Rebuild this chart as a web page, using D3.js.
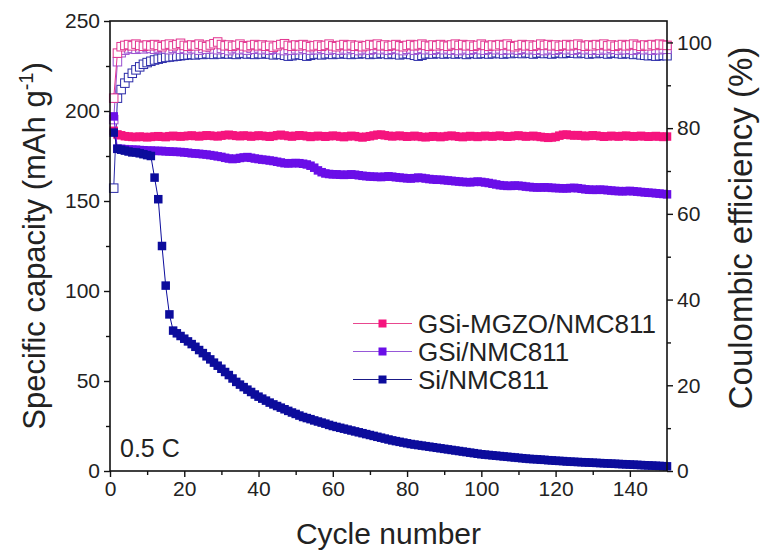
<!DOCTYPE html>
<html>
<head>
<meta charset="utf-8">
<script src="https://cdn.jsdelivr.net/npm/d3@7/dist/d3.min.js"></script>
<style>
  html, body { margin: 0; padding: 0; background: #fff; }
  svg text { font-family: "Liberation Sans", Arial, sans-serif; fill: #222; }
</style>
</head>
<body>
<svg id="chart" width="761" height="553"></svg>
<script>
/* ================================
   DATA (cycles 1..150)
================================ */

const seriesNames = ["GSi-MGZO/NMC811", "GSi/NMC811", "Si/NMC811"];

const capMGZO = [
  189,187,186.5,186,185.8,185.6,185.5,185.8,185.6,185.4,
  185.6,185.8,186,185.7,185.5,186,186.2,186,185.8,186,
  186.2,186.4,186.1,185.9,186.2,186.5,186.3,186.1,185.9,186.3,
  186.6,186.8,186.5,186.2,186,186.4,186.2,185.8,186.1,186.4,
  186.2,186,185.7,186.1,186.5,186.8,186.4,186.1,185.8,186.2,
  186.5,186.3,186,185.6,185.9,186.2,186,185.7,186,186.3,
  186.1,185.8,185.5,185.9,186.2,186,185.6,185.3,185.7,186,
  186.4,186.8,186.9,186.5,186.2,185.9,186.1,186.3,186,185.7,
  185.9,186.2,185.9,185.6,185.4,185.7,186,185.8,185.5,185.8,
  186.1,186.3,186,185.7,185.5,185.8,186.1,185.9,185.6,185.9,
  186.2,186,185.8,186.1,186.3,186,185.7,185.9,186.2,186.4,
  186.1,185.8,186,186.2,185.9,185.6,185.4,185.1,185.3,185.6,
  186.3,186.8,186.9,186.6,186.4,186.6,186.3,186,186.2,186.5,
  186.3,186,185.7,185.9,186.2,186,185.8,186.1,186.3,186,
  185.8,186,186.2,185.9,185.7,185.9,186.1,185.8,185.6,185.8
];

const capGSi = [
  197,179,179,178.8,178.6,178.5,178.5,178.3,178.2,178,
  178,177.9,177.8,177.8,177.6,177.5,177.4,177.3,177.2,177,
  176.8,176.5,176.4,176.2,176,175.8,175.5,175.2,174.8,174.5,
  174,173.6,173.3,173.5,173.9,174.2,174.4,174,173.6,173.3,
  173,172.8,172.5,172.2,171.8,171.4,171,170.9,171,171.1,
  171,170.7,170.3,169.6,168.5,167,166,165.3,165,164.8,
  164.8,164.6,164.5,164.6,164.8,164.6,164.3,164,163.8,163.6,
  163.5,163.4,163.3,163.5,163.7,163.5,163.2,163,162.8,162.6,
  162.5,162.7,163,162.8,162.5,162.2,162,161.8,161.8,161.6,
  161.4,161.2,161,160.8,160.6,160.5,160.4,160.6,160.8,160.6,
  160.3,160,159.6,159.2,158.8,158.6,158.4,158.4,158.6,158.5,
  158.3,158,157.8,157.6,157.5,157.5,157.6,157.5,157.3,157.2,
  157.1,157,157,157.2,157.3,157.1,156.8,156.5,156.3,156.2,
  156.2,156.3,156.2,156,155.8,155.6,155.5,155.4,155.5,155.6,
  155.4,155.2,155,154.8,154.6,154.5,154.3,154.1,153.9,153.7
];

const capSi = [
  188,179,178.5,178,177.5,177,177,176.5,176,175.5,
  175,163,151,125,103,87,78,76.5,75,73.5,
  72,70.5,69,67.2,65.5,63.7,62,60.2,58.5,56.8,
  55,53.3,51.4,49.5,48,46.6,45.2,43.9,42.5,41.3,
  40.2,39.1,38,37,36.1,35.2,34.3,33.4,32.5,31.7,
  30.8,30,29.4,28.8,28.1,27.5,26.9,26.3,25.6,25,
  24.5,24,23.5,23,22.5,22,21.5,21,20.5,20,
  19.5,19,18.5,18,17.5,17,16.6,16.2,15.8,15.4,
  15,14.7,14.4,14.1,13.8,13.5,13.2,12.9,12.6,12.3,
  12,11.7,11.4,11.1,10.8,10.5,10.2,9.9,9.6,9.3,
  9.1,8.9,8.7,8.5,8.3,8.1,7.9,7.7,7.5,7.3,
  7.1,6.9,6.7,6.6,6.5,6.3,6.2,6,5.9,5.7,
  5.6,5.5,5.3,5.2,5.1,5,4.9,4.8,4.7,4.6,
  4.5,4.4,4.3,4.2,4.1,4,3.9,3.8,3.7,3.6,
  3.5,3.4,3.3,3.2,3.1,3,2.9,2.8,2.7,2.6
];

const ceMGZO = [
  87,97.5,99,99.3,99.5,99.2,99.6,99.3,99.1,99.4,
  99.2,99.5,99.3,99,99.4,99.6,99.2,99.5,99.8,99.3,
  99.1,99.4,99.2,99.6,99.3,99,99.4,99.7,100.1,99.5,
  99.2,99.4,99.1,99.3,99.6,99.2,99,99.3,99.5,99.2,
  99.4,99.1,99.3,98.9,99.2,99.5,99.7,99.3,99.1,99.4,
  99.2,99.5,99.3,99,99.2,99.4,99.1,99.3,99.6,99.2,
  99,99.3,99.5,99.2,99.4,99.1,99.3,99,99.2,99.5,
  99.3,99.6,99.2,99.4,99.1,99.3,99.5,99.2,99,99.3,
  99.5,99.2,99.4,99.6,99.3,99.1,99.4,99.2,99.5,99.3,
  99.1,99.4,99.6,99.3,99.5,99.2,99.4,99.1,99.3,99.6,
  99.3,99.1,99.4,99.2,99.5,99.3,99.6,99.2,99,99.3,
  99.5,99.2,99.4,99.1,99.3,99.6,99.3,99.5,99.2,99.4,
  99.1,99.3,99.5,99.2,99.4,99.6,99.3,99.1,99.4,99.2,
  99.5,99.3,99.6,99.2,99.4,99.1,99.3,99.5,99.2,99.4,
  99.6,99.3,99.1,99.4,99.2,99.5,99.3,99.6,99.4,99.3
];

const ceGSi = [
  82,95.5,97.6,98.2,98.5,98.6,98.4,98.7,98.5,98.8,
  98.6,98.4,98.7,98.9,98.5,98.3,98.6,98.8,98.4,98.6,
  98.3,98.7,98.5,98.2,98.6,98.4,98.8,98.5,98.3,98.6,
  98.4,98.1,98.5,98.7,98.3,98.5,98.2,98.6,98.4,98.7,
  98.3,98.5,98.2,98.4,98.6,98.3,98.1,98.4,98.2,98.5,
  98.3,98.6,98.4,98.2,98.5,98.3,98.6,98.4,98.2,98.5,
  98.4,98.2,98.5,98.3,98.6,98.4,98.1,98.3,98.5,98.2,
  98.4,98.6,98.3,98.5,98.2,98.4,98.6,98.3,98.1,98.4,
  98.5,98.2,98.4,98.6,98.3,98.5,98.2,98.4,98.6,98.3,
  98.5,98.2,98.4,98.1,98.3,98.5,98.2,98.4,98.6,98.3,
  98.2,98.4,98.6,98.3,98.5,98.2,98.4,98.3,98.5,98.2,
  98.4,98.6,98.3,98.5,98.2,98.4,98.1,98.3,98.5,98.2,
  98.4,98.6,98.3,98.5,98.2,98.4,98.6,98.3,98.5,98.2,
  98.4,98.2,98.5,98.3,98.6,98.4,98.2,98.5,98.3,98.4,
  98.2,98.4,98.6,98.3,98.5,98.2,98.4,98.3,98.5,98.4
];

const ceSi = [
  66,87,89,90.5,91.8,92.8,93.6,94.3,94.9,95.3,
  95.6,95.9,96.1,96.3,96.5,96.6,96.7,96.8,96.9,97,
  97.1,97.2,97.1,97.3,97.2,97.4,97.3,97.2,97.4,97.3,
  97.5,97.3,97.4,97.2,97.4,97.5,97.3,97.4,97.2,97.4,
  97.3,97.5,97.3,97.1,97.3,97.2,97,96.8,96.9,97.1,
  97.2,97,96.8,97,97.2,97.3,97.1,97.3,97.4,97.2,
  97.4,97.3,97.5,97.3,97.2,97.4,97.3,97.5,97.4,97.2,
  97.4,97.3,97.5,97.4,97.2,97.4,97.3,97.1,97.3,97.4,
  97.2,97,96.8,97,97.3,97.4,97.3,97.5,97.4,97.3,
  97.5,97.4,97.3,97.5,97.4,97.2,97.4,97.5,97.3,97.4,
  97.5,97.3,97.4,97.6,97.4,97.3,97.5,97.4,97.6,97.5,
  97.4,97.6,97.5,97.3,97.5,97.6,97.4,97.5,97.3,97.5,
  97.6,97.4,97.5,97.7,97.5,97.4,97.6,97.5,97.3,97.5,
  97.4,97.6,97.5,97.3,97.5,97.6,97.4,97.3,97.5,97.4,
  97.2,97.3,97.1,97,96.9,97,96.8,96.9,97,96.9
];

const xTicks = [0, 20, 40, 60, 80, 100, 120, 140];
const capTicks = [0, 50, 100, 150, 200, 250];
const ceTicks = [0, 20, 40, 60, 80, 100];

/* ================================
   CHART
================================ */

const svg = d3.select("#chart");
const margin = { left: 110, right: 94, top: 21, bottom: 82 };
const W = 761, H = 553;

const x = d3.scaleLinear().domain([0, 150]).range([margin.left, W - margin.right]);
const yCap = d3.scaleLinear().domain([0, 250]).range([H - margin.bottom, margin.top]);
const yCE = d3.scaleLinear().domain([0, 105]).range([H - margin.bottom, margin.top]);

const colors = {
  mgzo: "#f5147e",
  gsi: "#6a0ee8",
  si: "#0c0c9c",
};
const ceStroke = {
  mgzo: "#e2338f",
  gsi: "#9a4fcf",
  si: "#2a2aa8",
};
const legendLine = {
  mgzo: "#e8488f",
  gsi: "#9658d8",
  si: "#1a1a86",
};

const cycles = d3.range(1, 151);
const sq = 8.5;

// Coulombic efficiency - open squares (behind)
function drawCE(values, key) {
  const pts = cycles.map((c, i) => [c, values[i]]);
  const line = d3.line().x(d => x(d[0])).y(d => yCE(d[1]));
  svg.append("path")
    .attr("d", line(pts))
    .attr("fill", "none")
    .attr("stroke", ceStroke[key])
    .attr("stroke-width", 1);
  svg.append("g")
    .selectAll("rect")
    .data(pts)
    .join("rect")
    .attr("x", d => x(d[0]) - sq / 2)
    .attr("y", d => yCE(d[1]) - sq / 2)
    .attr("width", sq)
    .attr("height", sq)
    .attr("fill", "#fff")
    .attr("stroke", ceStroke[key])
    .attr("stroke-width", 1);
}

drawCE(ceSi, "si");
drawCE(ceGSi, "gsi");
drawCE(ceMGZO, "mgzo");

// Specific capacity - filled squares
function drawCap(values, key) {
  const pts = cycles.map((c, i) => [c, values[i]]);
  const line = d3.line().x(d => x(d[0])).y(d => yCap(d[1]));
  svg.append("path")
    .attr("d", line(pts))
    .attr("fill", "none")
    .attr("stroke", colors[key])
    .attr("stroke-width", 1);
  svg.append("g")
    .selectAll("rect")
    .data(pts)
    .join("rect")
    .attr("x", d => x(d[0]) - sq / 2)
    .attr("y", d => yCap(d[1]) - sq / 2)
    .attr("width", sq)
    .attr("height", sq)
    .attr("fill", colors[key]);
}

drawCap(capMGZO, "mgzo");
drawCap(capGSi, "gsi");
drawCap(capSi, "si");

// Axes
const x0 = margin.left, x1 = W - margin.right;
const y0 = H - margin.bottom, y1 = margin.top;

svg.append("rect")
  .attr("x", x0).attr("y", y1)
  .attr("width", x1 - x0).attr("height", y0 - y1)
  .attr("fill", "none").attr("stroke", "#111").attr("stroke-width", 1.6);

svg.append("g")
  .attr("transform", `translate(0,${y0})`)
  .call(d3.axisBottom(x).tickValues(xTicks).tickSize(6).tickPadding(4));
svg.append("g")
  .attr("transform", `translate(0,${y0})`)
  .call(d3.axisBottom(x).tickValues(d3.range(10, 150, 20)).tickSize(4).tickFormat(""));

svg.append("g")
  .attr("transform", `translate(${x0},0)`)
  .call(d3.axisLeft(yCap).tickValues(capTicks).tickSize(6).tickPadding(4));
svg.append("g")
  .attr("transform", `translate(${x0},0)`)
  .call(d3.axisLeft(yCap).tickValues(d3.range(25, 250, 50)).tickSize(4).tickFormat(""));

svg.append("g")
  .attr("transform", `translate(${x1},0)`)
  .call(d3.axisRight(yCE).tickValues(ceTicks).tickSize(6).tickPadding(4));
svg.append("g")
  .attr("transform", `translate(${x1},0)`)
  .call(d3.axisRight(yCE).tickValues(d3.range(10, 105, 20)).tickSize(4).tickFormat(""));

svg.selectAll(".domain").remove();
svg.selectAll(".tick line").attr("stroke", "#111").attr("stroke-width", 1.4);
svg.selectAll(".tick text")
  .style("font-family", "'Liberation Sans', Arial, sans-serif")
  .style("font-size", "21px")
  .attr("fill", "#222");

// Axis titles
svg.append("text")
  .attr("x", (x0 + x1) / 2)
  .attr("y", 544)
  .attr("text-anchor", "middle")
  .style("font-size", "30px")
  .text("Cycle number");

const leftTitle = svg.append("text")
  .attr("transform", `translate(45,${(y0 + y1) / 2}) rotate(-90)`)
  .attr("text-anchor", "middle")
  .style("font-size", "31px");
leftTitle.append("tspan").text("Specific capacity (mAh g");
leftTitle.append("tspan").attr("dy", -12).style("font-size", "20px").text("-1");
leftTitle.append("tspan").attr("dy", 12).text(")");

svg.append("text")
  .attr("transform", "translate(752,228) rotate(-90)")
  .attr("text-anchor", "middle")
  .style("font-size", "33px")
  .text("Coulombic efficiency (%)");

// Rate label
svg.append("text")
  .attr("x", 120)
  .attr("y", 457)
  .style("font-size", "25px")
  .text("0.5 C");

// Legend
const legendKeys = ["mgzo", "gsi", "si"];
const legend = svg.append("g").attr("transform", "translate(353,323.5)");
legendKeys.forEach((k, i) => {
  const g = legend.append("g").attr("transform", `translate(0,${i * 28})`);
  g.append("line")
    .attr("x1", 0).attr("x2", 59)
    .attr("stroke", legendLine[k]).attr("stroke-width", 1);
  g.append("rect")
    .attr("x", 29.5 - 4).attr("y", -4)
    .attr("width", 8).attr("height", 8)
    .attr("fill", colors[k]);
  g.append("text")
    .attr("x", 65)
    .attr("y", 9)
    .style("font-size", "26px")
    .text(seriesNames[i]);
});
</script>
</body>
</html>
